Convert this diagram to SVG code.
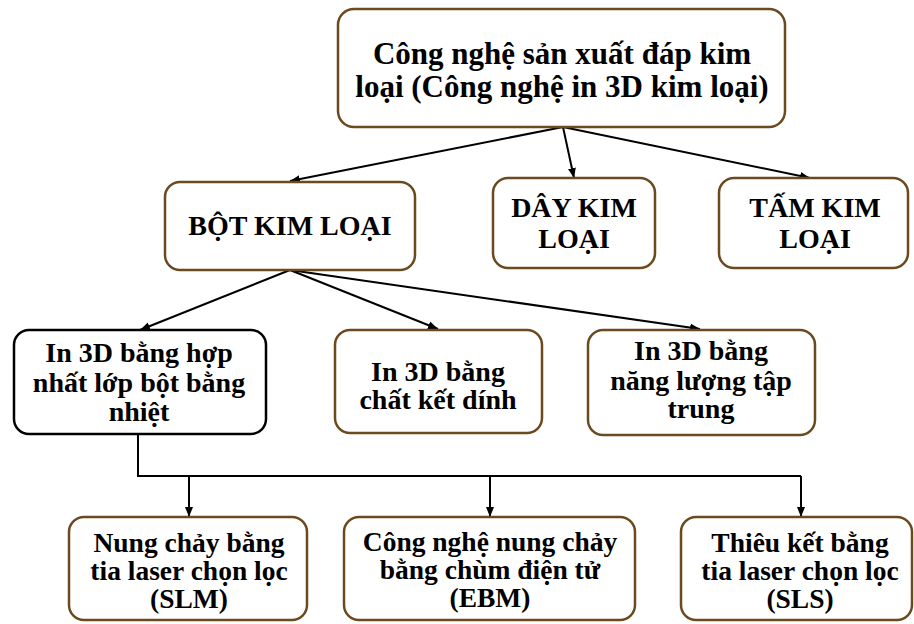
<svg xmlns="http://www.w3.org/2000/svg" width="914" height="624" viewBox="0 0 914 624">
<style>
.box{fill:#fff;stroke:#6b4a1f;stroke-width:2.5}
.blk{fill:#fff;stroke:#000;stroke-width:2.5}
text{font-family:"Liberation Serif","Times New Roman",serif;font-weight:bold;fill:#000;text-anchor:middle;font-size:28px}
.big{font-size:31px}
.sm{font-size:27.5px}
.con{fill:none;stroke:#000;stroke-width:2}
</style>
<defs>
<marker id="ah" viewBox="0 0 10 10" refX="10" refY="5" markerWidth="10" markerHeight="10" markerUnits="userSpaceOnUse" orient="auto">
<path d="M0,1 L10,5 L0,9 Z" fill="#000"/>
</marker>
</defs>
<rect width="914" height="624" fill="#fff"/>
<g id="connectors">
<line class="con" x1="563" y1="127" x2="290" y2="181" marker-end="url(#ah)"/>
<line class="con" x1="563" y1="127" x2="574" y2="178" marker-end="url(#ah)"/>
<line class="con" x1="563" y1="127" x2="810" y2="178" marker-end="url(#ah)"/>
<line class="con" x1="290" y1="270" x2="140" y2="330" marker-end="url(#ah)"/>
<line class="con" x1="290" y1="270" x2="438" y2="329" marker-end="url(#ah)"/>
<line class="con" x1="290" y1="270" x2="700" y2="329" marker-end="url(#ah)"/>
<polyline class="con" points="138,434 138,476 801,476"/>
<line class="con" x1="189" y1="476" x2="189" y2="517" marker-end="url(#ah)"/>
<line class="con" x1="490" y1="476" x2="490" y2="517" marker-end="url(#ah)"/>
<line class="con" x1="801" y1="476" x2="801" y2="517" marker-end="url(#ah)"/>
</g>
<g id="n-top">
<rect class="box" x="338" y="9" width="447" height="118" rx="16"/>
<text class="big" x="562" y="64">Công nghệ sản xuất đáp kim</text>
<text class="big" x="562" y="97">loại (Công nghệ in 3D kim loại)</text>
</g>
<g id="n-bot">
<rect class="box" x="165" y="182" width="250" height="88" rx="15"/>
<text x="290" y="235">BỘT KIM LOẠI</text>
</g>
<g id="n-day">
<rect class="box" x="493" y="178" width="162" height="90" rx="15"/>
<text x="574" y="217">DÂY KIM</text>
<text x="574" y="248">LOẠI</text>
</g>
<g id="n-tam">
<rect class="box" x="719" y="178" width="189" height="90" rx="15"/>
<text x="815" y="217">TẤM KIM</text>
<text x="815" y="248">LOẠI</text>
</g>
<g id="n-nhiet">
<rect class="blk" x="14" y="330" width="252" height="104" rx="15"/>
<text x="139" y="362">In 3D bằng hợp</text>
<text x="139" y="392">nhất lớp bột bằng</text>
<text x="139" y="421">nhiệt</text>
</g>
<g id="n-ketdinh">
<rect class="box" x="335" y="330" width="207" height="103" rx="15"/>
<text x="438" y="381">In 3D bằng</text>
<text x="438" y="409">chất kết dính</text>
</g>
<g id="n-nangluong">
<rect class="box" x="588" y="330" width="227" height="105" rx="15"/>
<text x="701" y="360">In 3D bằng</text>
<text x="701" y="390">năng lượng tập</text>
<text x="701" y="418">trung</text>
</g>
<g id="n-slm">
<rect class="box" x="69" y="517" width="238" height="103" rx="15"/>
<text class="sm" x="189" y="552">Nung chảy bằng</text>
<text class="sm" x="189" y="580">tia laser chọn lọc</text>
<text class="sm" x="189" y="608">(SLM)</text>
</g>
<g id="n-ebm">
<rect class="box" x="344" y="517" width="291" height="103" rx="15"/>
<text class="sm" x="490" y="551">Công nghệ nung chảy</text>
<text class="sm" x="490" y="579">bằng chùm điện tử</text>
<text class="sm" x="490" y="607">(EBM)</text>
</g>
<g id="n-sls">
<rect class="box" x="681" y="517" width="231" height="103" rx="15"/>
<text class="sm" x="800" y="552">Thiêu kết bằng</text>
<text class="sm" x="800" y="580">tia laser chọn lọc</text>
<text class="sm" x="800" y="608">(SLS)</text>
</g>
</svg>
